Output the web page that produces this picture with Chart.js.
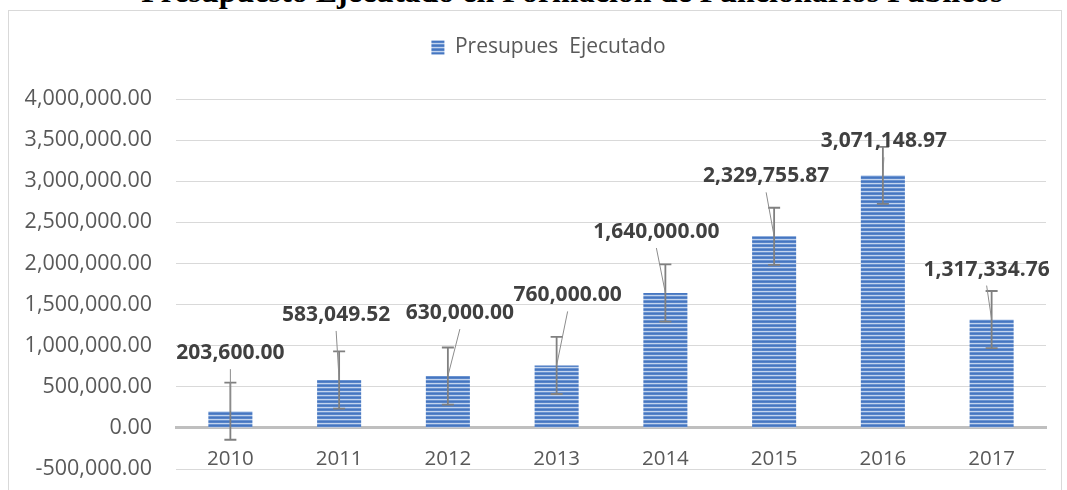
<!DOCTYPE html>
<html>
<head>
<meta charset="utf-8">
<script src="https://cdn.jsdelivr.net/npm/chart.js@4.4.0/dist/chart.umd.min.js"></script>
<style>
  html, body { margin: 0; padding: 0; background: #fff; width: 1067px; height: 490px; overflow: hidden; }
  #title {
    position: absolute; left: 0; top: -25px; width: 1144px;
    text-align: center; white-space: nowrap;
    font: bold 32px/32px "Liberation Serif", "Times New Roman", serif; color: #000;
  }
  #frame {
    position: absolute; left: 8px; top: 10px; width: 1052px; height: 490px;
    border: 1px solid #d9d9d9; background: #fff;
  }
  #frame canvas { position: absolute; left: 0; top: 0; }
</style>
</head>
<body>
<div id="title">Presupuesto Ejecutado en Formación de Funcionarios Públicos</div>
<div id="frame"><canvas id="budgetChart" width="1052" height="480"></canvas></div>
<script>
// data
const years = ['2010', '2011', '2012', '2013', '2014', '2015', '2016', '2017'];
const budget = [203600.00, 583049.52, 630000.00, 760000.00, 1640000.00, 2329755.87, 3071148.97, 1317334.76];
const seriesName = 'Presupues  Ejecutado';
const stdError = 347600; // error bar size (same for every bar)
const yMin = -500000;
const yMax = 4000000;
const yStep = 500000;

// where each value label sits, relative to the top of its bar (px)
const labelOffsets = [[0, -58], [-3, -65], [12, -63], [11, -70], [-9, -61], [-8, -60], [1, -34], [-5, -50]];

const fmt = v => v.toLocaleString('en-US', { minimumFractionDigits: 2, maximumFractionDigits: 2 });

const ctx = document.getElementById('budgetChart').getContext('2d');

// horizontal stripes like the excel fill
function stripes() {
  const c = document.createElement('canvas');
  c.width = 8; c.height = 4;
  const g = c.getContext('2d');
  ['#c3d4ee', '#6a93d0', '#4676c1', '#5784c8'].forEach((col, i) => {
    g.fillStyle = col;
    g.fillRect(0, i, 8, 1);
  });
  return ctx.createPattern(c, 'repeat');
}

// legend takes the whole band above the plot
const legendBand = {
  id: 'legendBand',
  afterInit(chart) {
    const fit = chart.legend.fit;
    chart.legend.fit = function () {
      fit.call(this);
      this.height = 88;
    };
  },
  afterLayout(chart) {
    chart.legend.left += 21;
    chart.legend.right += 21;
  }
};

// error bars, leader lines and value labels
const barExtras = {
  id: 'barExtras',
  afterDatasetsDraw(chart) {
    const c = chart.ctx;
    const y = chart.scales.y;
    const bars = chart.getDatasetMeta(0).data;
    c.save();
    c.strokeStyle = '#808080';
    c.lineWidth = 1.8;
    bars.forEach((bar, i) => {
      const top = y.getPixelForValue(budget[i] + stdError);
      const bot = y.getPixelForValue(budget[i] - stdError);
      c.beginPath();
      c.moveTo(bar.x, top); c.lineTo(bar.x, bot);
      c.moveTo(bar.x - 6, top); c.lineTo(bar.x + 6, top);
      c.moveTo(bar.x - 6, bot); c.lineTo(bar.x + 6, bot);
      c.stroke();
    });
    c.font = 'bold 21px "Open Sans"';
    c.textAlign = 'center';
    c.textBaseline = 'middle';
    bars.forEach((bar, i) => {
      const lx = bar.x + labelOffsets[i][0];
      const ly = bar.y + labelOffsets[i][1];
      c.strokeStyle = '#8c8c8c';
      c.lineWidth = 1;
      c.beginPath();
      c.moveTo(lx, ly + 16);
      c.lineTo(bar.x, bar.y);
      c.stroke();
      c.fillStyle = '#404040';
      c.fillText(fmt(budget[i]), lx, ly);
    });
    c.restore();
  }
};

new Chart(ctx, {
  type: 'bar',
  data: {
    labels: years,
    datasets: [{
      label: seriesName,
      data: budget,
      backgroundColor: stripes(),
      borderWidth: 0,
      barPercentage: 0.405,
      categoryPercentage: 1
    }]
  },
  options: {
    responsive: false,
    animation: false,
    layout: { padding: { left: 0, right: 15, top: 0, bottom: 22 } },
    plugins: {
      title: { display: false },
      tooltip: { enabled: false },
      legend: {
        display: true,
        position: 'top',
        labels: {
          boxWidth: 13, boxHeight: 14, padding: 26,
          color: '#595959',
          font: { family: 'Open Sans', size: 21 }
        }
      }
    },
    scales: {
      x: {
        position: { y: 0 },
        grid: { display: true, drawOnChartArea: false, drawTicks: false },
        border: { display: true, color: '#bfbfbf', width: 3 },
        ticks: {
          color: '#595959', padding: 19, maxRotation: 0, autoSkip: false,
          font: { family: 'Open Sans', size: 20.5 }
        }
      },
      y: {
        min: yMin, max: yMax,
        grid: { color: '#d9d9d9', lineWidth: 1, drawTicks: false },
        border: { display: false },
        afterFit(scale) {
          scale.width = 167;
          scale.paddingTop = 0;
          scale.paddingBottom = 0;
        },
        ticks: {
          stepSize: yStep, padding: 24, color: '#595959',
          font: { family: 'Open Sans', size: 21.5 },
          callback: v => fmt(v)
        }
      }
    }
  },
  plugins: [legendBand, barExtras]
});
</script>
</body>
</html>
